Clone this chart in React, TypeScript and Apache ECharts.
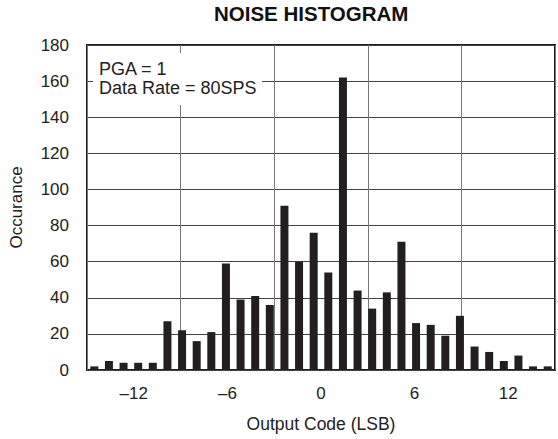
import React, { useEffect, useRef } from "react";
import * as echarts from "echarts";

const titleText = "NOISE HISTOGRAM";
const yAxisName = "Occurance";
const xAxisName = "Output Code (LSB)";
const noteLines = ["PGA = 1", "Data Rate = 80SPS"];

// 32 histogram bins (output codes)
const binCodes = [
  "-16", "-15", "-14", "-13", "-12", "-11", "-10", "-9", "-8", "-7", "-6", "-5", "-4", "-3", "-2", "-1",
  "0", "1", "2", "3", "4", "5", "6", "7", "8", "9", "10", "11", "12", "13", "14", "15",
];
const binCounts = [
  2, 5, 4, 4, 4, 27, 22, 16, 21, 59, 39, 41, 36, 91, 60, 76,
  54, 162, 44, 34, 43, 71, 26, 25, 19, 30, 13, 10, 5, 8, 2, 2,
];

const xTickLabels = [-12, -6, 0, 6, 12];
const xMin = -15;
const xMax = 15;
const yMin = 0;
const yMax = 180;
const yStep = 20;

const FONT = "Liberation Sans, Arial, Helvetica, sans-serif";

export default function App() {
  const ref = useRef<HTMLDivElement>(null);
  useEffect(() => {
    if (!ref.current) return;
    const chart = echarts.init(ref.current, null, { renderer: "svg" });
    const fmt = (v: number) => {
      if (!xTickLabels.includes(v)) return "";
      return v < 0 ? "\u2013" + Math.abs(v) : String(v);
    };
    chart.setOption({
      animation: false,
      backgroundColor: "#ffffff",
      textStyle: { fontFamily: FONT },
      grid: {
        left: 83,
        top: 45,
        right: -2,
        bottom: 69,
        show: true,
        borderColor: "#1a1a1a",
        borderWidth: 2,
        backgroundColor: "transparent",
      },
      xAxis: [
        {
          type: "category",
          data: binCodes,
          show: false,
          boundaryGap: true,
        },
        {
          type: "value",
          position: "bottom",
          min: xMin,
          max: xMax,
          interval: 3,
          axisLine: { show: false },
          axisTick: { show: false },
          splitLine: { show: false },
          axisLabel: {
            formatter: fmt,
            fontSize: 17,
            color: "#222",
            margin: 15,
            fontFamily: FONT,
          },
          name: xAxisName,
          nameLocation: "middle",
          nameGap: 45,
          nameTextStyle: { fontSize: 17.5, color: "#222", fontFamily: FONT },
        },
        {
          type: "value",
          position: "bottom",
          min: xMin,
          max: xMax,
          interval: 6,
          axisLine: { show: false },
          axisTick: { show: false },
          axisLabel: { show: false },
          splitLine: { show: true, lineStyle: { color: "#777", width: 1 } },
        },
      ],
      yAxis: {
        type: "value",
        min: yMin,
        max: yMax,
        interval: yStep,
        axisLine: { show: false },
        axisTick: { show: false },
        splitLine: { show: true, lineStyle: { color: "#444", width: 1 } },
        axisLabel: { fontSize: 17, color: "#222", margin: 18, fontFamily: FONT },
        name: yAxisName,
        nameLocation: "middle",
        nameRotate: 90,
        nameGap: 62,
        nameTextStyle: { fontSize: 17, color: "#222", fontFamily: FONT },
      },
      series: [
        {
          type: "bar",
          xAxisIndex: 0,
          yAxisIndex: 0,
          data: binCounts,
          barWidth: 8,
          itemStyle: { color: "#231f20" },
          z: 3,
        },
      ],
      graphic: [
        {
          type: "text",
          left: 214,
          top: 3,
          style: {
            text: titleText,
            font: "bold 20.5px " + FONT,
            fill: "#111",
          },
        },
        {
          type: "rect",
          shape: { x: 93, y: 53, width: 169, height: 52 },
          style: { fill: "#ffffff" },
          z: 10,
        },
        {
          type: "text",
          x: 99,
          y: 69,
          z: 11,
          style: {
            text: noteLines[0],
            font: "18px " + FONT,
            fill: "#222",
            textVerticalAlign: "middle",
          },
        },
        {
          type: "text",
          x: 99,
          y: 88,
          z: 11,
          style: {
            text: noteLines[1],
            font: "18px " + FONT,
            fill: "#222",
            textVerticalAlign: "middle",
          },
        },
      ],
    });
    return () => chart.dispose();
  }, []);
  return (
    <div
      ref={ref}
      style={{ position: "fixed", left: 0, top: 0, width: 558, height: 439, background: "#fff" }}
    />
  );
}
